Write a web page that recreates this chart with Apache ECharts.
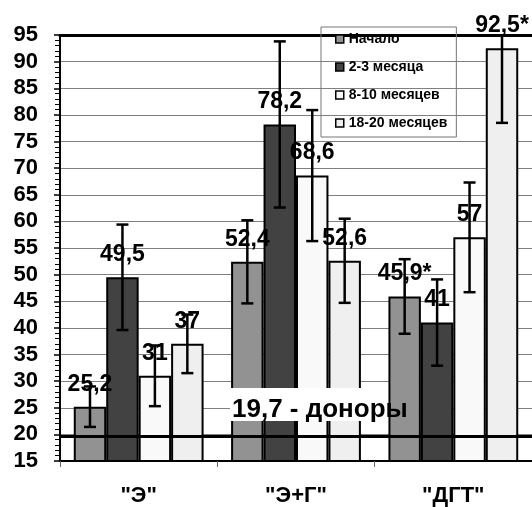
<!DOCTYPE html>
<html>
<head>
<meta charset="utf-8">
<script src="https://cdn.jsdelivr.net/npm/echarts@6/dist/echarts.min.js"></script>
<style>
  html, body { margin: 0; padding: 0; background: #ffffff; }
  #chart { width: 532px; height: 507px; }
</style>
</head>
<body>
<div id="chart"></div>
<script>
// Groups and periods
const categories = ['"Э"', '"Э+Г"', '"ДГТ"'];
const seriesNames = ['Начало', '2-3 месяца', '8-10 месяцев', '18-20 месяцев'];

// Mean values per period
const valuesStart = [25.2, 52.4, 45.9];
const values2to3 = [49.5, 78.2, 41];
const values8to10 = [31, 68.6, 57];
const values18to20 = [37, 52.6, 92.5];

// Error half-widths per period
const errStart = [3.8, 7.8, 7.0];
const err2to3 = [9.9, 15.6, 8.1];
const err8to10 = [5.7, 12.3, 10.3];
const err18to20 = [5.5, 7.9, 14.0];

// Values marked with an asterisk (significant difference)
const markStart = [false, false, true];
const mark2to3 = [false, false, false];
const mark8to10 = [false, false, false];
const mark18to20 = [false, false, true];

// Reference level for donors
const donorLevel = 19.7;
const donorText = '19,7 - доноры';

// Value axis range
const yMin = 15;
const yMax = 95;
const yStep = 5;

const FONT = '"Liberation Sans", Arial, sans-serif';
const CAT_GAP = 0.175;
const colors = ['#929292', '#424242', '#f9f9f9', '#efefef'];

const allValues = [valuesStart, values2to3, values8to10, values18to20];
const allErrors = [errStart, err2to3, err8to10, err18to20];
const allMarks = [markStart, mark2to3, mark8to10, mark18to20];

function fmt(v, marked) {
  return String(v).replace('.', ',') + (marked ? '*' : '');
}

function barSeries(k) {
  return {
    name: seriesNames[k],
    type: 'bar',
    data: allValues[k],
    barGap: '0%',
    barCategoryGap: (CAT_GAP * 100) + '%',
    itemStyle: { color: colors[k], borderColor: '#000', borderWidth: 2 },
    label: {
      show: true,
      position: 'top',
      distance: 11,
      formatter: p => fmt(p.value, allMarks[k][p.dataIndex]),
      fontSize: 23,
      fontWeight: 'bold',
      fontFamily: FONT,
      color: '#000'
    },
    z: 2
  };
}

function errorSeries(k) {
  const vals = allValues[k];
  const errs = allErrors[k];
  return {
    type: 'custom',
    silent: true,
    z: 5,
    encode: { x: 0, y: 1 },
    data: vals.map((v, i) => [i, v, errs[i]]),
    renderItem(params, api) {
      const ci = api.value(0);
      const v = api.value(1);
      const e = api.value(2);
      const band = api.size([1, 0])[0];
      const w = band * (1 - CAT_GAP) / 4;
      const cx = api.coord([ci, v])[0] - 2 * w + (k + 0.5) * w;
      const hi = Math.min(v + e, yMax);
      const lo = Math.max(v - e, yMin);
      const yHi = api.coord([ci, hi])[1];
      const yLo = api.coord([ci, lo])[1];
      const cap = 6;
      const st = { stroke: '#000', lineWidth: 2.5 };
      const children = [
        { type: 'line', shape: { x1: cx, y1: yHi, x2: cx, y2: yLo }, style: st },
        { type: 'line', shape: { x1: cx - cap, y1: yLo, x2: cx + cap, y2: yLo }, style: st }
      ];
      if (v + e <= yMax) {
        children.push({ type: 'line', shape: { x1: cx - cap, y1: yHi, x2: cx + cap, y2: yHi }, style: st });
      }
      return { type: 'group', children };
    }
  };
}

const chart = echarts.init(document.getElementById('chart'), null, { renderer: 'canvas' });

const series = [0, 1, 2, 3].map(barSeries)
  .concat([0, 1, 2, 3].map(errorSeries))
  .concat([{
    name: 'donors',
    type: 'line',
    data: [null, null, null],
    symbol: 'none',
    silent: true,
    z: 10,
    markLine: {
      silent: true,
      symbol: ['none', 'none'],
      animation: false,
      lineStyle: { color: '#000', width: 3, type: 'solid' },
      data: [{ yAxis: donorLevel }],
      label: {
        show: true,
        position: 'insideStartTop',
        distance: [170, 15],
        formatter: donorText,
        backgroundColor: '#fff',
        color: '#000',
        fontSize: 26,
        fontWeight: 'bold',
        fontFamily: FONT,
        lineHeight: 20,
        width: 156,
        overflow: 'none',
        padding: [12, 0, 1, 2]
      }
    }
  }]);

chart.setOption({
  animation: false,
  backgroundColor: '#fff',
  textStyle: { fontFamily: FONT },
  grid: { left: 60, right: 0, top: 35, bottom: 45, containLabel: false },
  legend: {
    data: seriesNames,
    orient: 'vertical',
    left: 321,
    top: 27,
    icon: 'rect',
    itemWidth: 8,
    itemHeight: 8,
    itemGap: 14,
    borderColor: '#777',
    borderWidth: 1,
    padding: [5, 9, 7, 14],
    itemStyle: { borderColor: '#000', borderWidth: 1.5 },
    textStyle: { fontSize: 14, lineHeight: 14, fontWeight: 'bold', color: '#000', fontFamily: FONT }
  },
  xAxis: [
    {
      type: 'category',
      data: categories,
      position: 'bottom',
      axisLine: { onZero: false, lineStyle: { color: '#000', width: 2 } },
      axisTick: { show: true, length: 6, lineStyle: { color: '#666', width: 1 } },
      axisLabel: { fontSize: 22, fontWeight: 'bold', color: '#000', margin: 24, fontFamily: FONT }
    },
    {
      type: 'category',
      data: categories,
      position: 'top',
      axisLine: { show: true, onZero: false, lineStyle: { color: '#000', width: 3 } },
      axisTick: { show: false },
      axisLabel: { show: false }
    }
  ],
  yAxis: {
    type: 'value',
    min: yMin,
    max: yMax,
    interval: yStep,
    axisLine: { show: true, lineStyle: { color: '#000', width: 2 } },
    axisTick: { show: true, length: 6, lineStyle: { color: '#000', width: 1.5 } },
    minorTick: { show: true, splitNumber: 5, length: 5, lineStyle: { color: '#000', width: 1 } },
    splitLine: { show: true, lineStyle: { color: '#808080', width: 1 } },
    axisLabel: { fontSize: 22, fontWeight: 'bold', color: '#000', margin: 22, fontFamily: FONT }
  },
  series: series
});
</script>
</body>
</html>
